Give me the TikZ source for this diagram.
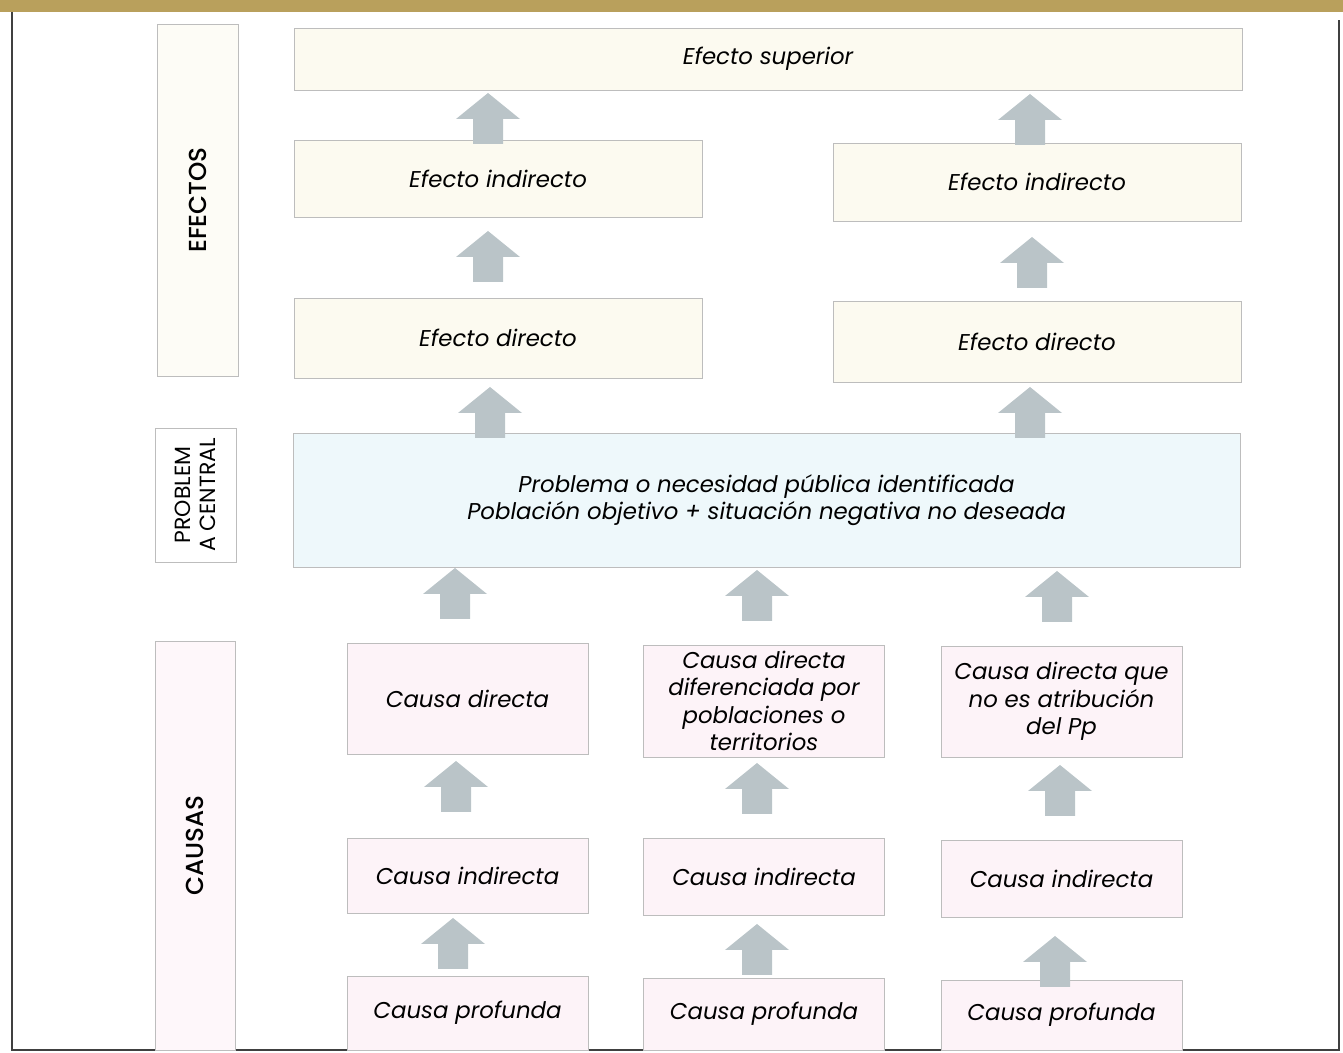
\documentclass[tikz,border=0pt]{standalone}
\usepackage{fontspec}
\setmainfont{Poppins}
\newfontfamily\etiqfont{Poppins}[UprightFont=*-Medium]
\usetikzlibrary{calc}

\definecolor{oro}{HTML}{B9A05C}
\definecolor{borde}{HTML}{BDBDBD}
\definecolor{crema}{HTML}{FCFAF0}
\definecolor{celeste}{HTML}{EEF8FB}
\definecolor{rosa}{HTML}{FDF3F8}
\definecolor{gris}{HTML}{BAC4C8}
\newcommand{\pu}{0.02cm}

\begin{document}
\begin{tikzpicture}[x=0.02cm,y=-0.02cm]
\tikzstyle{caja}=[draw=borde,line width=0.5pt,align=center,inner sep=2pt,font=\fontsize{13}{15.6}\selectfont\itshape]
\tikzstyle{efecto}=[caja,fill=crema]
\tikzstyle{causa}=[caja,fill=rosa,minimum width=241*\pu]
\tikzstyle{etiqueta}=[draw=borde,line width=0.5pt,align=center,rotate=90,inner sep=1pt,font=\etiqfont\fontsize{14}{15}\selectfont]
\tikzset{flecha/.pic={\fill[gris] (-15,25) -- (-15,0) -- (-32,0) -- (0,-26) -- (32,0) -- (15,0) -- (15,25) -- cycle;}}
\useasboundingbox (0,0) rectangle (1343,1053);
% marco
\fill[oro] (0,0) rectangle (1343,12);
\draw[line width=0.9pt,black!75] (12,12) -- (12,1050) -- (1339,1050) -- (1339,20);
% etiquetas
\node[etiqueta,fill=crema!60,minimum width=352*\pu,minimum height=81*\pu] (lefe) at (197.5,200) {EFECTOS};
\node[etiqueta,fill=white,minimum width=134*\pu,minimum height=81*\pu,font=\fontsize{12.5}{14}\selectfont] (lprob) at (195.5,495) {PROBLEM\\A CENTRAL};
\node[etiqueta,fill=rosa!70,minimum width=409*\pu,minimum height=80*\pu] (lcau) at (195,845.5) {CAUSAS};
% efectos
\node[efecto,minimum width=948*\pu,minimum height=62*\pu] (efsup) at (768,59) {Efecto superior};
\node[efecto,minimum width=408*\pu,minimum height=77*\pu] (efind1) at (498,178.5) {Efecto indirecto};
\node[efecto,minimum width=408*\pu,minimum height=78*\pu] (efind2) at (1037,182) {Efecto indirecto};
\node[efecto,minimum width=408*\pu,minimum height=80*\pu] (efdir1) at (498,338) {Efecto directo};
\node[efecto,minimum width=408*\pu,minimum height=81*\pu] (efdir2) at (1037,341.5) {Efecto directo};
% problema
\node[caja,fill=celeste,minimum width=947*\pu,minimum height=134*\pu] (prob) at (766.5,500) {Problema o necesidad pública identificada\\Población objetivo + situación negativa no deseada};
% causas
\node[causa,minimum height=111*\pu] (cd1) at (467.5,698.5) {Causa directa};
\node[causa,minimum height=112*\pu] (cd2) at (764,701) {Causa directa\\diferenciada por\\poblaciones o\\territorios};
\node[causa,minimum height=111*\pu] (cd3) at (1061.5,701.5) {Causa directa que\\no es atribución\\del Pp};
\node[causa,minimum height=75*\pu] (ci1) at (467.5,875.5) {Causa indirecta};
\node[causa,minimum height=77*\pu] (ci2) at (764,876.5) {Causa indirecta};
\node[causa,minimum height=77*\pu] (ci3) at (1061.5,878.5) {Causa indirecta};
\node[causa,minimum height=74*\pu] (cp1) at (467.5,1013) {Causa profunda};
\node[causa,minimum height=72*\pu] (cp2) at (764,1014) {Causa profunda};
\node[causa,minimum height=70*\pu] (cp3) at (1061.5,1015) {Causa profunda};
% flechas
\foreach \x/\y in {488/119,1030/120,488/257,1032/263,490/413,1030/413,
  455/594,757/596,1057/597,456/787,757/789,1060/791,453/944,757/950,1055/962}
  \pic at (\x,\y) {flecha};
\end{tikzpicture}
\end{document}
